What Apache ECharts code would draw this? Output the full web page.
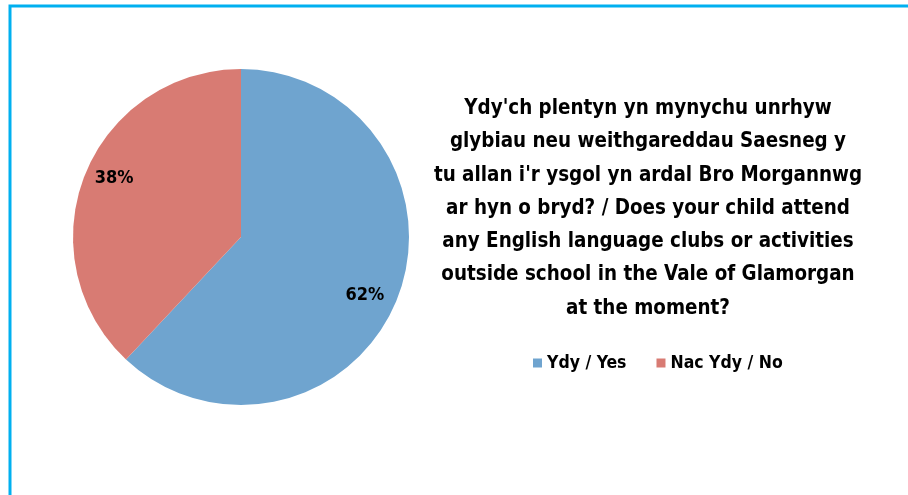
<!DOCTYPE html>
<html>
<head>
<meta charset="utf-8">
<script src="https://cdn.jsdelivr.net/npm/echarts@6/dist/echarts.min.js"></script>
<style>
  html, body { margin: 0; padding: 0; background: #fff; }
  #chart1 { width: 908px; height: 495px; }
</style>
</head>
<body>
<div id="chart1"></div>
<script>
var dom = document.getElementById("chart1");
var myChart = echarts.init(dom);

var categories = ['Ydy / Yes', 'Nac Ydy / No'];
var values = [62, 38];
var colors = ['#6fa4cf', '#d87b73'];
var titleText = "Ydy'ch plentyn yn mynychu unrhyw\nglybiau neu weithgareddau Saesneg y\ntu allan i'r ysgol yn ardal Bro Morgannwg\nar hyn o bryd? / Does your child attend\nany English language clubs or activities\noutside school in the Vale of Glamorgan\nat the moment?";

var fontFam = "'Liberation Sans Narrow', 'DejaVu Sans Condensed', 'Roboto', sans-serif";

var pieData = categories.map(function (name, i) {
    return { name: name, value: values[i], itemStyle: { color: colors[i] } };
});

// shift the labels out from mid radius, like the original
var labelShift = [[43, 26], [-46, -27]];

option = {
    animation: false,
    graphic: [{
        type: 'polyline',
        shape: { points: [[10, 495], [10, 6], [908, 6]] },
        style: { stroke: '#00b0f0', lineWidth: 3, fill: null }
    }],
    title: {
        text: titleText,
        left: 643,
        top: 87,
        textAlign: 'center',
        textStyle: {
            fontFamily: fontFam,
            fontWeight: 'bold',
            fontSize: 20.4,
            lineHeight: 33.3,
            color: '#000'
        }
    },
    legend: {
        data: categories,
        left: 528,
        top: 349,
        itemWidth: 9,
        itemHeight: 9,
        itemGap: 30,
        icon: 'rect',
        textStyle: {
            fontFamily: fontFam,
            fontWeight: 'bold',
            fontSize: 17.5,
            color: '#000'
        }
    },
    series: [{
        type: 'pie',
        center: [241, 237],
        radius: [0, 168],
        startAngle: 90,
        clockwise: true,
        data: pieData,
        label: {
            show: true,
            position: 'inside',
            formatter: '{d}%',
            fontFamily: fontFam,
            fontWeight: 'bold',
            fontSize: 18,
            color: '#000'
        },
        labelLine: { show: false },
        labelLayout: function (params) {
            var s = labelShift[params.dataIndex];
            return { dx: s[0], dy: s[1] };
        },
        emphasis: { disabled: true }
    }]
};

if (option && typeof option === "object") {
    myChart.setOption(option, true);
}
</script>
</body>
</html>
